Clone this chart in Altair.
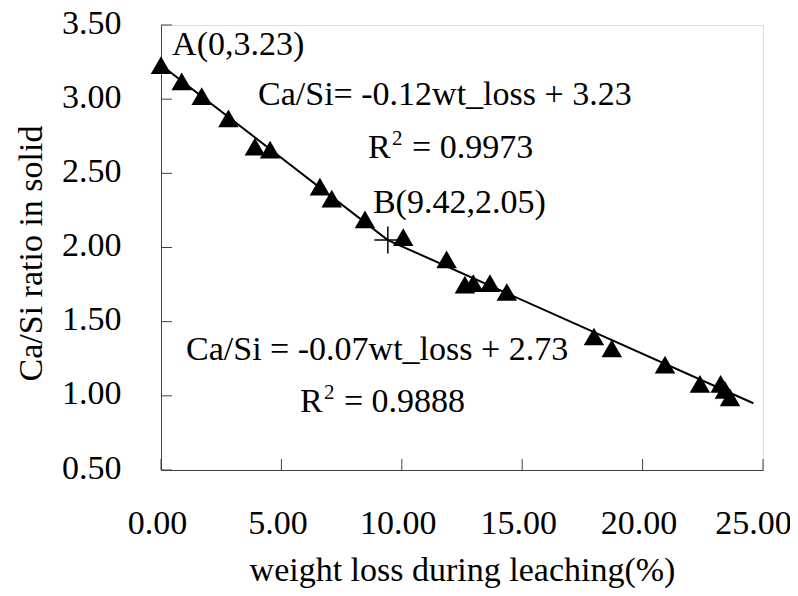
import altair as alt
import pandas as pd

# measured data points (weight loss %, Ca/Si ratio)
loss = [0.0, 0.86, 1.69, 2.80, 3.90, 4.53, 6.60, 7.09, 8.47, 10.06, 11.86, 12.62,
        12.97, 13.66, 14.36, 17.98, 18.72, 20.93, 22.38, 23.24, 23.42, 23.63]
ratio = [3.23, 3.12, 3.02, 2.87, 2.68, 2.66, 2.41, 2.33, 2.19, 2.07, 1.92, 1.75,
         1.76, 1.76, 1.70, 1.40, 1.32, 1.21, 1.08, 1.08, 1.04, 0.99]

# two-segment trend line
fit_x = [0.0, 9.42, 24.6]
fit_y = [3.23, 2.05, 0.95]

# break point B
b_x = [9.42]
b_y = [2.05]

x_ticks = [0, 5, 10, 15, 20, 25]
y_ticks = [0.5, 1.0, 1.5, 2.0, 2.5, 3.0, 3.5]

# annotations
ann_text = ["A(0,3.23)", "Ca/Si= -0.12wt_loss + 3.23", "B(9.42,2.05)", "Ca/Si = -0.07wt_loss + 2.73"]
ann_x = [0.46, 4.03, 8.80, 1.04]
ann_y = [3.30, 2.96, 2.232, 1.241]

r2_x = [8.6, 5.77]
r2_y = [2.603, 0.890]
r2_val = ["= 0.9973", "= 0.9888"]

FONT = "Liberation Serif"
FS = 34
AX = "#404040"
W, H = 602, 445

pts = pd.DataFrame({"x": loss, "y": ratio})
fit = pd.DataFrame({"x": fit_x, "y": fit_y})
bdf = pd.DataFrame({"x": b_x, "y": b_y})
xt = pd.DataFrame({"x": x_ticks})
yt = pd.DataFrame({"y": y_ticks})
ann = pd.DataFrame({"x": ann_x, "y": ann_y, "t": ann_text})
r2 = pd.DataFrame({"x": r2_x, "y": r2_y, "v": r2_val, "r": ["R"] * 2, "s": ["2"] * 2})

xscale = alt.Scale(domain=[0, 25], nice=False, zero=False)
yscale = alt.Scale(domain=[0.5, 3.5], nice=False, zero=False)

xaxis = alt.Axis(values=x_ticks, format=".2f", title="weight loss during leaching(%)",
                 labelFont=FONT, labelFontSize=FS, labelColor="black",
                 labelPadding=63, labelBaseline="alphabetic",
                 labelOffset={"condition": {"test": "datum.value >= 25", "value": -10}, "value": -4},
                 labelFlush=False, labelOverlap=False, labelBound=False,
                 ticks=False, tickSize=0, grid=False,
                 domainColor=AX, domainWidth=1,
                 titleFont=FONT, titleFontSize=FS, titleFontWeight="normal",
                 titleColor="black", titleY=110, titleBaseline="alphabetic")
yaxis = alt.Axis(values=y_ticks, format=".2f", title="Ca/Si ratio in solid",
                 labelFont=FONT, labelFontSize=FS, labelColor="black",
                 labelPadding=40, labelBaseline="alphabetic", labelOffset=8,
                 labelFlush=False, labelOverlap=False, labelBound=False,
                 ticks=False, tickSize=0, grid=False,
                 domainColor=AX, domainWidth=1,
                 titleFont=FONT, titleFontSize=FS, titleFontWeight="normal",
                 titleColor="black", titleAngle=270, titleX=-120, titleY=228,
                 titleBaseline="alphabetic", titleAlign="center")

X = alt.X("x:Q", scale=xscale, axis=xaxis)
Y = alt.Y("y:Q", scale=yscale, axis=yaxis)

line = alt.Chart(fit).mark_line(color="black", strokeWidth=2).encode(x=X, y=Y)
tri = alt.Chart(pts).mark_point(shape="triangle-up", filled=True, color="black",
                                size=420, opacity=1).encode(x=X, y=Y)
cross = alt.Chart(bdf).mark_point(shape="M-1,0H1M0,-1V1", filled=False, color="black",
                                  strokeWidth=1.5, size=729, opacity=1).encode(x=X, y=Y)

xtick = alt.Chart(xt).mark_rule(color=AX, strokeWidth=1).encode(
    x=X, y=alt.value(H), y2=alt.value(H - 11))
ytick = alt.Chart(yt).mark_rule(color=AX, strokeWidth=1).encode(
    y=Y, x=alt.value(0), x2=alt.value(11))

txt = alt.Chart(ann).mark_text(font=FONT, fontSize=FS, align="left",
                               baseline="alphabetic", color="black").encode(x=X, y=Y, text="t:N")
rtxt = alt.Chart(r2).mark_text(font=FONT, fontSize=FS, align="left",
                               baseline="alphabetic", color="black").encode(x=X, y=Y, text="r:N")
stxt = alt.Chart(r2).mark_text(font=FONT, fontSize=21, align="left", dx=24, dy=-13,
                               baseline="alphabetic", color="black").encode(x=X, y=Y, text="s:N")
vtxt = alt.Chart(r2).mark_text(font=FONT, fontSize=FS, align="left", dx=44,
                               baseline="alphabetic", color="black").encode(x=X, y=Y, text="v:N")

chart = alt.layer(xtick, ytick, line, tri, cross, txt, rtxt, stxt, vtxt).properties(
    width=W, height=H,
    padding={"left": 153, "top": 17, "right": 27, "bottom": 118},
    autosize=alt.AutoSizeParams(type="none"),
)

chart.save("out.html", embed_options={"renderer": "svg", "actions": False})
